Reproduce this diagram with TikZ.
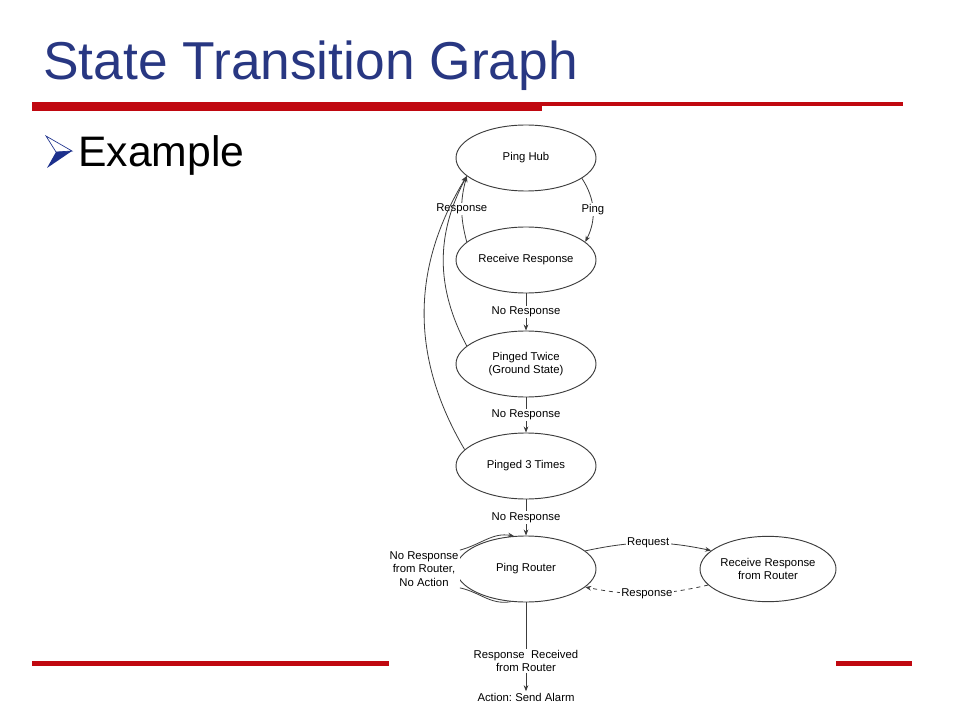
\documentclass[tikz,border=0pt]{standalone}
\usepackage{fontspec}
\setmainfont{Liberation Sans}
\frenchspacing
\usetikzlibrary{shapes.geometric,arrows.meta}
\definecolor{titleblue}{RGB}{40,55,130}
\definecolor{bulletblue}{RGB}{28,48,140}
\definecolor{barred}{RGB}{192,8,16}
\definecolor{linegray}{RGB}{60,60,60}
\begin{document}
\begin{tikzpicture}[
  x=0.75pt, y=-0.75pt,
  state/.style={draw=linegray, line width=0.7pt, ellipse, minimum width=105pt, minimum height=49.5pt, inner sep=0pt, align=center, font=\fontsize{8.5}{10}\selectfont},
  lbl/.style={font=\fontsize{8.5}{10}\selectfont, align=center, inner sep=1pt, fill=white},
  link/.style={draw=linegray, line width=0.6pt},
  arr/.style={link, -{Stealth[length=4.5pt,width=3.5pt]}}
]
\useasboundingbox (0,0) rectangle (960,720);
\fill[white] (0,0) rectangle (960,720);

\node[anchor=base west, text=titleblue, font=\fontsize{40}{48}\selectfont, inner sep=0pt] (title) at (43,80) {State Transition Graph};
\fill[barred] (32,102) rectangle (542,111);
\fill[barred] (542,102) rectangle (903,106);
\fill[barred] (32,661) rectangle (389,666);
\fill[barred] (836,661) rectangle (912,666);

\filldraw[draw=bulletblue, fill=white, line width=0.5pt] (46,136) -- (72,151) -- (56,152) -- cycle;
\fill[bulletblue] (56,152) -- (72,151) -- (47,168) -- cycle;
\node[anchor=base west, font=\fontsize{32}{38}\selectfont, inner sep=0pt] (example) at (78,167) {Example};

\node[state] (hub) at (526,158) {Ping Hub};
\node[state] (recv) at (526,260) {Receive Response};
\node[state] (twice) at (526,364) {Pinged Twice\\(Ground State)};
\node[state] (three) at (526,466) {Pinged 3 Times};
\node[state] (router) at (526,569) {Ping Router};
\node[state, minimum width=102pt, minimum height=49pt] (rrouter) at (768,569) {Receive Response\\from Router};

\node[lbl] (noact) at (424,569) {No Response\\from Router,\\No Action};
\node[lbl] (rcvd) at (526,661) {Response\ \ Received\\from Router};
\node[lbl] (alarm) at (526,697) {Action: Send Alarm};

\draw[arr] (hub.-20) to[bend left=30] node[lbl] {Ping} (recv.17);
\draw[arr] (recv.163) to[bend left=15] node[lbl] {Response} (hub.197);
\draw[arr] (recv) -- node[lbl] {No Response} (twice);
\draw[arr] (twice) -- node[lbl] {No Response} (three);
\draw[arr] (three) -- node[lbl] {No Response} (router);
\draw[arr] (twice.163) to[bend left=28] (hub.197);
\draw[arr] (three.165) to[bend left=31] (hub.197);

\draw[link] (router.245) to[out=190,in=-12] (noact.south east);
\draw[arr] (noact.north east) to[out=15,in=170] (router.110);

\draw[arr] (router.17) to[bend left=12] node[lbl] {Request} (rrouter.162);
\draw[arr, dashed] (rrouter.195) to[bend left=12] node[lbl] {Response} (router.-17);

\draw[link] (router) -- (rcvd);
\draw[arr] (rcvd) -- (alarm);
\end{tikzpicture}
\end{document}
